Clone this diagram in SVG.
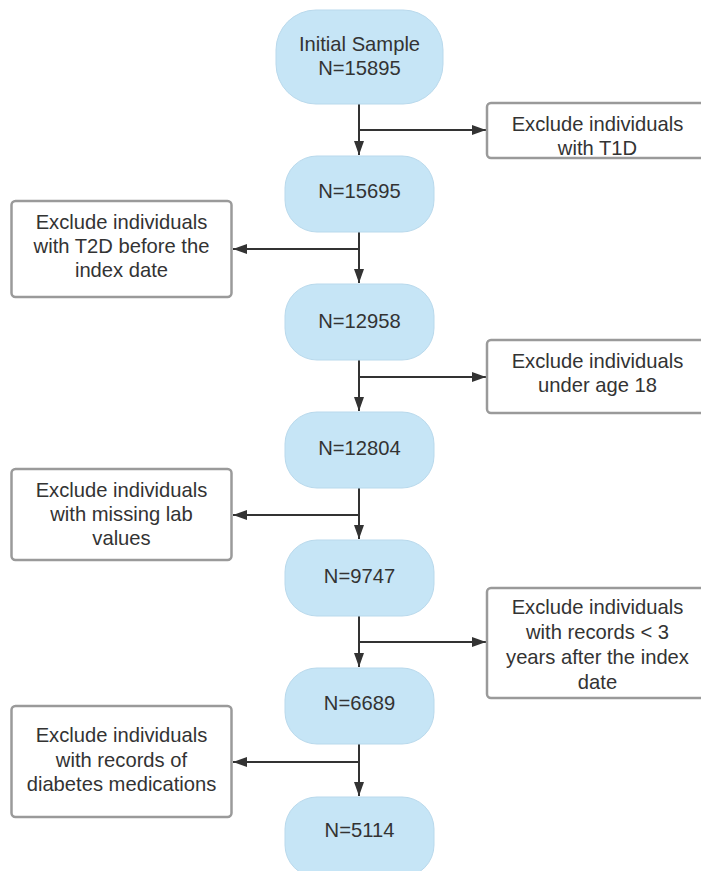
<svg xmlns="http://www.w3.org/2000/svg" width="701" height="871" viewBox="0 0 701 871">
<style>
.node{fill:#c6e5f6;stroke:#b9d9ec;stroke-width:1}
.box{fill:#fff;stroke:#9a9a9a;stroke-width:2.5}
.t{font-family:"Liberation Sans",Arial,sans-serif;font-size:20.2px;fill:#333;text-anchor:middle}
.c{stroke:#333;stroke-width:2;fill:none}
</style>
<defs>
<marker id="ah" viewBox="0 0 14 10" refX="14" refY="5" markerWidth="14" markerHeight="10" markerUnits="userSpaceOnUse" orient="auto">
<path d="M0,0 L14,5 L0,10 Z" fill="#333"/>
</marker>
</defs>
<rect width="701" height="871" fill="#fff"/>
<g id="connectors">
<path class="c" d="M359,104 V155" marker-end="url(#ah)"/>
<path class="c" d="M359,130 H486" marker-end="url(#ah)"/>
<path class="c" d="M359,232 V283" marker-end="url(#ah)"/>
<path class="c" d="M359,249 H233" marker-end="url(#ah)"/>
<path class="c" d="M359,360 V411" marker-end="url(#ah)"/>
<path class="c" d="M359,377 H486" marker-end="url(#ah)"/>
<path class="c" d="M359,488 V539" marker-end="url(#ah)"/>
<path class="c" d="M359,515 H233" marker-end="url(#ah)"/>
<path class="c" d="M359,616 V667" marker-end="url(#ah)"/>
<path class="c" d="M359,642 H486" marker-end="url(#ah)"/>
<path class="c" d="M359,744 V796" marker-end="url(#ah)"/>
<path class="c" d="M359,762 H233" marker-end="url(#ah)"/>
</g>
<g id="n1"><rect class="node" x="276" y="10" width="167" height="94" rx="40"/><text class="t" x="359.5" y="51">Initial Sample</text><text class="t" x="359.5" y="75">N=15895</text></g>
<g id="n2"><rect class="node" x="285" y="156" width="149" height="76" rx="32"/><text class="t" x="359.5" y="198">N=15695</text></g>
<g id="n3"><rect class="node" x="285" y="284" width="149" height="76" rx="32"/><text class="t" x="359.5" y="328">N=12958</text></g>
<g id="n4"><rect class="node" x="285" y="412" width="149" height="76" rx="32"/><text class="t" x="359.5" y="455">N=12804</text></g>
<g id="n5"><rect class="node" x="285" y="540" width="149" height="76" rx="32"/><text class="t" x="359.5" y="583">N=9747</text></g>
<g id="n6"><rect class="node" x="285" y="668" width="149" height="76" rx="32"/><text class="t" x="359.5" y="710">N=6689</text></g>
<g id="n7"><rect class="node" x="285" y="797" width="149" height="80" rx="32"/><text class="t" x="359.5" y="837">N=5114</text></g>
<g id="e1"><rect class="box" x="487" y="103" width="221" height="55" rx="4"/><text class="t" x="597.5" y="131">Exclude individuals</text><text class="t" x="597.5" y="155">with T1D</text></g>
<g id="e2"><rect class="box" x="11.5" y="201" width="220" height="96" rx="4"/><text class="t" x="121.5" y="229">Exclude individuals</text><text class="t" x="121.5" y="253">with T2D before the</text><text class="t" x="121.5" y="277">index date</text></g>
<g id="e3"><rect class="box" x="487" y="340" width="221" height="73" rx="4"/><text class="t" x="597.5" y="368">Exclude individuals</text><text class="t" x="597.5" y="392">under age 18</text></g>
<g id="e4"><rect class="box" x="11.5" y="469" width="220" height="91" rx="4"/><text class="t" x="121.5" y="497">Exclude individuals</text><text class="t" x="121.5" y="521">with missing lab</text><text class="t" x="121.5" y="545">values</text></g>
<g id="e5"><rect class="box" x="487" y="588" width="221" height="110" rx="4"/><text class="t" x="597.5" y="614">Exclude individuals</text><text class="t" x="597.5" y="639">with records &lt; 3</text><text class="t" x="597.5" y="664">years after the index</text><text class="t" x="597.5" y="689">date</text></g>
<g id="e6"><rect class="box" x="11.5" y="706" width="220" height="111" rx="4"/><text class="t" x="121.5" y="742">Exclude individuals</text><text class="t" x="121.5" y="767">with records of</text><text class="t" x="121.5" y="791">diabetes medications</text></g>
</svg>
